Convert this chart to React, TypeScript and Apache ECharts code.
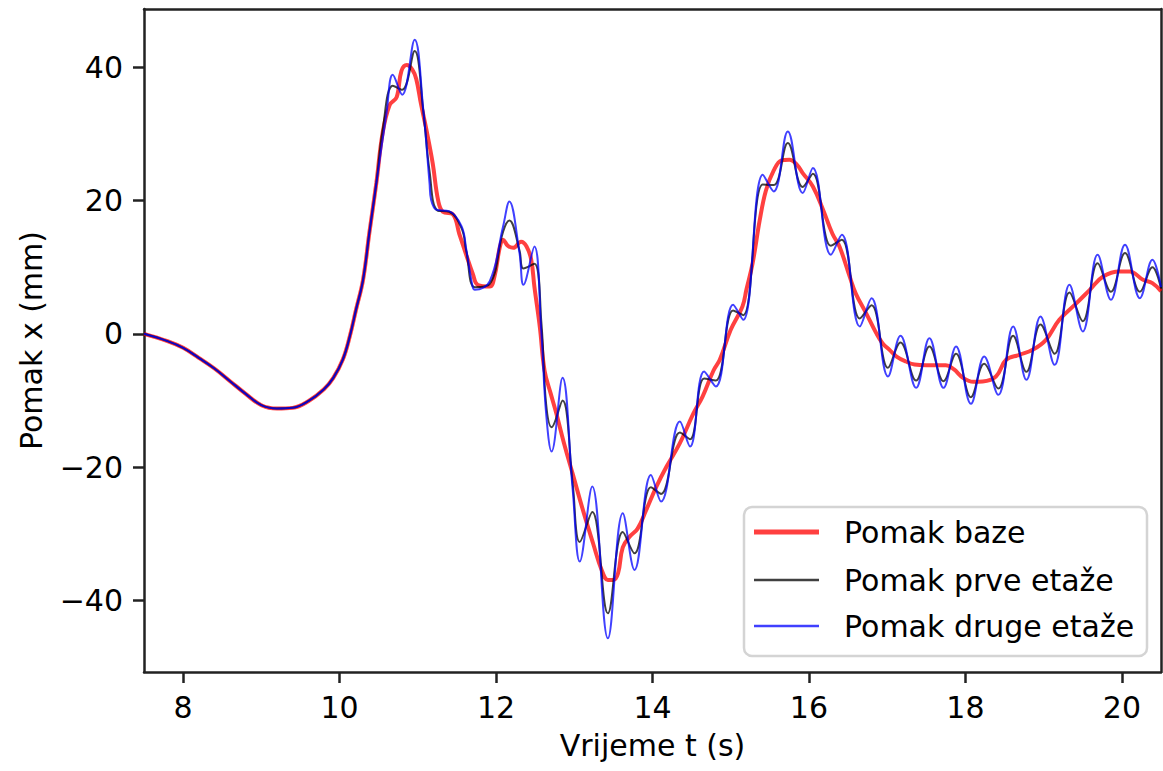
import React, { useEffect, useRef } from "react";
import * as echarts from "echarts";

// ---- data (t in s, displacement in mm) ----
const xTicks = [8, 10, 12, 14, 16, 18, 20];
const yTicks = [-40, -20, 0, 20, 40];

const sharedStart: [number, number][] = [
  [7.5, 0], [7.8, -1.1], [8.0, -2.1], [8.2, -3.6], [8.4, -5.2], [8.6, -7.1],
  [8.8, -9.0], [9.0, -10.7], [9.2, -11.2], [9.4, -11.1], [9.6, -10.1],
  [9.8, -8.3], [9.92, -6.6], [10.04, -3.9], [10.13, -0.4], [10.21, 3.6],
  [10.3, 8.1], [10.38, 15.1], [10.47, 22.6],
];

const baseRest: [number, number][] = [
  [10.55, 30.1], [10.64, 34.3], [10.73, 35.5], [10.79, 39.4], [10.86, 40.3],
  [10.93, 39.6], [10.98, 38.2], [11.04, 34.5], [11.11, 30.6], [11.19, 25.6],
  [11.26, 20.0], [11.32, 18.3], [11.45, 17.9], [11.53, 15.0], [11.62, 11.8],
  [11.7, 9.1], [11.77, 7.3], [11.92, 7.1], [11.98, 8.6], [12.05, 13.1],
  [12.09, 14.1], [12.15, 13.2], [12.22, 12.9], [12.32, 13.8], [12.39, 13.1],
  [12.45, 11.1], [12.49, 7.1], [12.56, 1.0], [12.62, -5.5], [12.7, -9.0],
  [12.77, -11.9], [12.88, -16.9], [12.98, -21.0], [13.11, -26.4],
  [13.24, -31.4], [13.35, -35.4], [13.43, -36.9], [13.5, -36.9],
  [13.56, -35.9], [13.62, -32.0], [13.71, -30.4], [13.81, -29.2],
  [13.92, -26.4], [14.05, -22.9], [14.18, -19.9], [14.35, -16.4],
  [14.52, -12.0], [14.64, -9.4], [14.78, -5.5], [14.86, -3.9], [15.0, 0.6],
  [15.15, 4.1], [15.2, 6.6], [15.28, 10.6], [15.37, 17.0], [15.45, 21.5],
  [15.55, 24.5], [15.65, 26.0], [15.75, 26.1], [15.85, 25.3], [15.92, 24.1],
  [16.05, 22.1], [16.18, 18.6], [16.3, 15.0], [16.39, 13.1], [16.52, 8.6],
  [16.6, 6.0], [16.73, 3.1], [16.86, 0.1], [16.94, -1.4], [17.03, -2.4],
  [17.12, -3.4], [17.24, -4.15], [17.35, -4.6], [17.5, -4.7], [17.75, -4.7],
  [17.85, -5.3], [17.97, -6.6], [18.1, -7.2], [18.22, -7.15], [18.39, -6.4],
  [18.52, -3.9], [18.69, -3.15], [18.86, -2.4], [19.03, -0.9], [19.2, 2.1],
  [19.42, 4.6], [19.59, 6.6], [19.76, 8.6], [19.97, 9.35], [20.1, 9.35],
  [20.27, 8.1], [20.39, 7.6], [20.5, 6.4],
];

const firstRest: [number, number][] = [
  [10.55, 30.5], [10.68, 37.2], [10.8, 36.6], [10.96, 42.4], [11.07, 33.4],
  [11.15, 24.4], [11.25, 18.5], [11.4, 18.3], [11.56, 15.8], [11.62, 12.4],
  [11.73, 7.0], [11.92, 7.5], [12.09, 15.3], [12.17, 17.0], [12.3, 12.5],
  [12.35, 9.8], [12.49, 10.5], [12.58, 1.6], [12.64, -10.5], [12.71, -14.0],
  [12.85, -10.0], [12.98, -22.5], [13.07, -31.2], [13.23, -26.7],
  [13.43, -41.9], [13.62, -29.7], [13.77, -32.9], [13.98, -23.0],
  [14.11, -24.0], [14.35, -14.8], [14.48, -15.8], [14.66, -6.7],
  [14.81, -7.0], [15.03, 3.5], [15.16, 2.8], [15.41, 22.4], [15.55, 22.3],
  [15.73, 28.6], [15.92, 22.0], [16.05, 24.0], [16.28, 13.2], [16.42, 14.1],
  [16.65, 2.3], [16.8, 4.3], [17.01, -5.1], [17.17, -1.3], [17.37, -7.0],
  [17.54, -1.9], [17.72, -7.1], [17.88, -3.0], [18.07, -9.5], [18.24, -4.5],
  [18.42, -8.2], [18.61, -0.3], [18.78, -5.7], [18.96, 1.4], [19.14, -3.0],
  [19.33, 6.2], [19.5, 1.9], [19.69, 10.6], [19.86, 6.3], [20.04, 12.1],
  [20.23, 6.3], [20.39, 10.0], [20.5, 6.8],
];

const secondRest: [number, number][] = [
  [10.6, 33.1], [10.68, 38.85], [10.8, 35.85], [10.96, 44.1], [11.07, 33.6],
  [11.15, 22.6], [11.17, 20.1], [11.24, 18.6], [11.4, 18.4], [11.56, 16.1],
  [11.62, 12.6], [11.7, 7.1], [11.73, 6.6], [11.92, 7.9], [12.09, 16.1],
  [12.17, 19.85], [12.3, 12.1], [12.35, 7.35], [12.49, 13.1], [12.58, 0.0],
  [12.64, -11.9], [12.71, -17.65], [12.85, -6.6], [12.98, -23.4],
  [13.07, -34.15], [13.23, -22.9], [13.43, -45.65], [13.62, -26.9],
  [13.77, -35.4], [13.98, -21.15], [14.11, -25.15], [14.35, -13.15],
  [14.48, -16.9], [14.66, -5.65], [14.81, -7.9], [15.03, 4.35], [15.16, 2.1],
  [15.41, 23.85], [15.55, 21.35], [15.73, 30.35], [15.92, 21.1],
  [16.05, 24.85], [16.28, 11.85], [16.42, 14.85], [16.65, 1.1], [16.8, 5.35],
  [17.01, -6.4], [17.17, -0.3], [17.37, -8.1], [17.54, -0.65], [17.72, -8.1],
  [17.88, -1.9], [18.07, -10.5], [18.24, -3.4], [18.42, -9.15], [18.61, 1.1],
  [18.78, -6.9], [18.96, 2.6], [19.14, -4.65], [19.33, 7.35], [19.5, 0.35],
  [19.69, 11.85], [19.86, 5.1], [20.04, 13.35], [20.23, 5.35], [20.39, 11.1],
  [20.5, 7.0],
];

const seriesNames = ["Pomak baze", "Pomak prve etaže", "Pomak druge etaže"];
const seriesColors = ["rgba(255,0,0,0.75)", "rgba(0,0,0,0.75)", "rgba(0,0,255,0.75)"];
const seriesWidths = [4, 2, 2];

const FONT = "DejaVu Sans";
const FS = 30;
const AX = "#222222";

export default function App() {
  const ref = useRef<HTMLDivElement>(null);

  useEffect(() => {
    if (!ref.current) return;
    const chart = echarts.init(ref.current, null, { renderer: "svg" });
    const datasets = [
      sharedStart.concat(baseRest),
      sharedStart.concat(firstRest),
      sharedStart.concat(secondRest),
    ];
    const fmt = (v: number) => (v < 0 ? "\u2212" + Math.abs(v) : String(v));

    const legendRows = [532, 580, 626];

    chart.setOption({
      animation: false,
      backgroundColor: "#ffffff",
      grid: { left: 144, right: 2, top: 9, bottom: 99, containLabel: false },
      xAxis: [
        {
          type: "value",
          min: 7.5,
          max: 20.5,
          name: "Vrijeme t (s)",
          nameLocation: "middle",
          nameGap: 58,
          nameTextStyle: { fontFamily: FONT, fontSize: FS, color: "#000" },
          axisLine: { show: true, onZero: false, lineStyle: { color: AX, width: 2.5 } },
          axisTick: { show: true, length: 11, inside: false, customValues: xTicks, lineStyle: { color: AX, width: 2.5 } },
          axisLabel: { show: true, customValues: xTicks, margin: 20, fontFamily: FONT, fontSize: FS, color: "#000", formatter: fmt },
          splitLine: { show: false },
        },
        {
          type: "value",
          position: "top",
          min: 7.5,
          max: 20.5,
          axisLine: { show: true, onZero: false, lineStyle: { color: AX, width: 2.5 } },
          axisTick: { show: false },
          axisLabel: { show: false },
          splitLine: { show: false },
        },
      ],
      yAxis: [
        {
          type: "value",
          min: -50.7,
          max: 48.7,
          name: "Pomak x (mm)",
          nameLocation: "middle",
          nameGap: 98,
          nameTextStyle: { fontFamily: FONT, fontSize: FS, color: "#000" },
          axisLine: { show: true, onZero: false, lineStyle: { color: AX, width: 2.5 } },
          axisTick: { show: true, length: 11, inside: false, customValues: yTicks, lineStyle: { color: AX, width: 2.5 } },
          axisLabel: { show: true, customValues: yTicks, margin: 21, fontFamily: FONT, fontSize: FS, color: "#000", formatter: fmt },
          splitLine: { show: false },
        },
        {
          type: "value",
          position: "right",
          min: -50.7,
          max: 48.7,
          axisLine: { show: true, onZero: false, lineStyle: { color: AX, width: 2.5 } },
          axisTick: { show: false },
          axisLabel: { show: false },
          splitLine: { show: false },
        },
      ],
      series: datasets.map((d, i) => ({
        name: seriesNames[i],
        type: "line",
        xAxisIndex: 0,
        yAxisIndex: 0,
        data: d,
        showSymbol: false,
        symbol: "none",
        smooth: 0.4,
        clip: true,
        lineStyle: { color: seriesColors[i], width: seriesWidths[i] },
        itemStyle: { color: seriesColors[i] },
        z: 2 + i,
      })),
      graphic: [
        {
          type: "group",
          z: 100,
          children: [
            {
              type: "rect",
              shape: { x: 744, y: 507, width: 403, height: 149, r: 8 },
              style: { fill: "rgba(255,255,255,0.8)", stroke: "#d4d4d4", lineWidth: 2.5 },
            },
            ...seriesNames.flatMap((name, i) => [
              {
                type: "line",
                shape: { x1: 754, y1: legendRows[i], x2: 819, y2: legendRows[i] },
                style: { stroke: seriesColors[i], lineWidth: seriesWidths[i] + (i === 0 ? 1 : 0.5) },
              },
              {
                type: "text",
                x: 844,
                y: legendRows[i],
                style: {
                  text: name,
                  fontFamily: FONT,
                  fontSize: FS,
                  fill: "#000",
                  verticalAlign: "middle",
                  align: "left",
                },
              },
            ]),
          ],
        },
      ],
    });

    return () => chart.dispose();
  }, []);

  return (
    <div
      ref={ref}
      style={{ position: "absolute", left: 0, top: 0, width: 1163, height: 771, background: "#fff" }}
    />
  );
}
